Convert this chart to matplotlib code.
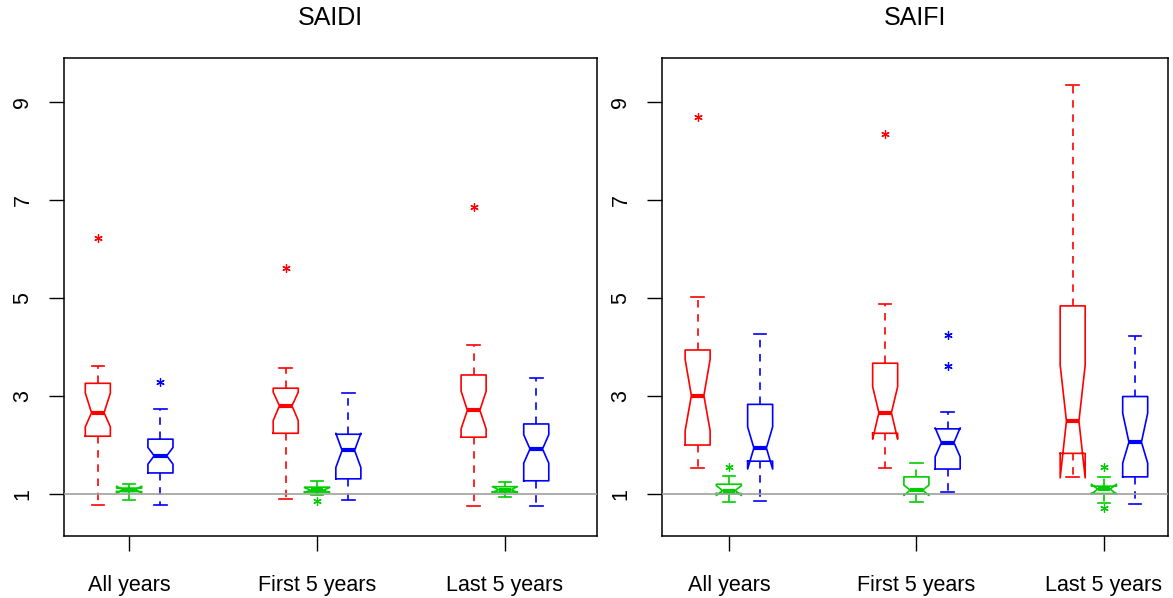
import matplotlib.pyplot as plt

plt.rcParams['font.family'] = ['Liberation Sans', 'DejaVu Sans']

# groups of boxes, three series each (red, green, blue)
periods = ["All years", "First 5 years", "Last 5 years"]
series_colors = ["#FF0000", "#00CD00", "#0000FF"]
positions = [1, 2, 3, 7, 8, 9, 13, 14, 15]
group_centers = [2, 8, 14]

# SAIDI box statistics (order: period x series)
saidi_whislo = [0.78, 0.88, 0.77, 0.90, 0.97, 0.88, 0.76, 0.93, 0.76]
saidi_q1 = [2.18, 1.05, 1.43, 2.24, 1.04, 1.31, 2.16, 1.04, 1.27]
saidi_med = [2.66, 1.09, 1.78, 2.80, 1.08, 1.89, 2.71, 1.09, 1.92]
saidi_q3 = [3.26, 1.12, 2.12, 3.16, 1.14, 2.22, 3.43, 1.15, 2.43]
saidi_whishi = [3.61, 1.20, 2.73, 3.57, 1.27, 3.06, 4.05, 1.24, 3.37]
saidi_cilo = [2.37, 1.02, 1.61, 2.50, 1.03, 1.54, 2.33, 1.03, 1.63]
saidi_cihi = [3.06, 1.16, 1.95, 3.08, 1.13, 2.24, 3.10, 1.15, 2.21]
saidi_fliers = [[6.22], [], [3.28], [5.61], [0.86], [], [6.86], [], []]

# SAIFI box statistics
saifi_whislo = [1.54, 0.84, 0.86, 1.54, 0.84, 1.04, 1.35, 0.81, 0.80]
saifi_q1 = [2.00, 1.01, 1.67, 2.24, 1.00, 1.51, 1.83, 1.01, 1.35]
saifi_med = [3.01, 1.07, 1.94, 2.66, 1.08, 2.05, 2.49, 1.10, 2.06]
saifi_q3 = [3.94, 1.20, 2.83, 3.67, 1.35, 2.33, 4.84, 1.16, 2.99]
saifi_whishi = [5.02, 1.37, 4.27, 4.88, 1.63, 2.68, 9.35, 1.35, 4.22]
saifi_cilo = [2.29, 0.97, 1.51, 2.12, 0.97, 1.76, 1.33, 1.00, 1.63]
saifi_cihi = [3.75, 1.17, 2.37, 3.19, 1.18, 2.35, 3.63, 1.20, 2.65]
saifi_fliers = [[8.69], [1.56], [], [8.35], [], [4.24, 3.62], [], [1.56, 0.71], []]


def make_stats(whislo, q1, med, q3, whishi, cilo, cihi, fliers):
    stats = []
    for i in range(len(med)):
        stats.append(dict(whislo=whislo[i], q1=q1[i], med=med[i], q3=q3[i],
                          whishi=whishi[i], cilo=cilo[i], cihi=cihi[i],
                          fliers=fliers[i]))
    return stats


def draw_panel(ax, stats, title):
    ax.axhline(1, color='#A0A0A0', lw=1.2, zorder=5)
    parts = ax.bxp(stats, positions=positions, widths=0.8, shownotches=True,
                   boxprops=dict(lw=1.2),
                   whiskerprops=dict(lw=1.2, linestyle=(0, (4.5, 4))),
                   capprops=dict(lw=1.2),
                   medianprops=dict(lw=3, solid_capstyle='butt'),
                   flierprops=dict(marker=(6, 2, 0), markersize=6, mew=0.9,
                                   linestyle='none'))
    for i in range(len(stats)):
        c = series_colors[i % 3]
        parts['boxes'][i].set_color(c)
        parts['medians'][i].set_color(c)
        parts['fliers'][i].set_markeredgecolor(c)
        parts['fliers'][i].set_markerfacecolor(c)
        for w in parts['whiskers'][2 * i:2 * i + 2]:
            w.set_color(c)
        for cp in parts['caps'][2 * i:2 * i + 2]:
            cp.set_color(c)

    ax.set_ylim(0.143, 9.9)
    ax.set_yticks([1, 3, 5, 7, 9])
    ax.set_yticklabels(['1', '3', '5', '7', '9'], rotation=90, va='center')
    ax.set_xticks(group_centers)
    ax.set_xticklabels(periods)
    ax.tick_params(axis='both', length=11, width=1, labelsize=15.5)
    ax.tick_params(axis='x', pad=17)
    ax.tick_params(axis='y', pad=11)
    for s in ax.spines.values():
        s.set_linewidth(1.1)
    ax.set_title(title, fontsize=18, pad=24)


fig = plt.figure(figsize=(11.73, 5.98), dpi=100)
ax1 = fig.add_axes([64 / 1173, 1 - 536 / 598, 533 / 1173, 478 / 598])
ax2 = fig.add_axes([662 / 1173, 1 - 536 / 598, 506 / 1173, 478 / 598])

draw_panel(ax1, make_stats(saidi_whislo, saidi_q1, saidi_med, saidi_q3, saidi_whishi,
                           saidi_cilo, saidi_cihi, saidi_fliers), "SAIDI")
draw_panel(ax2, make_stats(saifi_whislo, saifi_q1, saifi_med, saifi_q3, saifi_whishi,
                           saifi_cilo, saifi_cihi, saifi_fliers), "SAIFI")
ax1.set_xlim(-0.08, 16.94)
ax2.set_xlim(-0.14, 16.05)

fig.savefig("out.png", dpi=100)
